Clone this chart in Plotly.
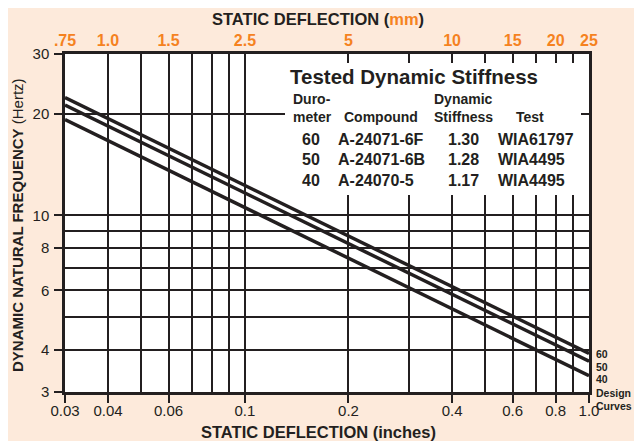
import plotly.graph_objects as go
import math

# ---------------- data ----------------
deflection_in = [0.03, 1.0]            # static deflection (inches) at curve ends
freq_60 = [22.3, 3.9]                  # Hz, 60 durometer
freq_50 = [21.2, 3.7]                  # Hz, 50 durometer
freq_40 = [19.2, 3.35]                 # Hz, 40 durometer

x_tick_vals = [0.03, 0.04, 0.06, 0.1, 0.2, 0.4, 0.6, 0.8, 1.0]
x_tick_text = ["0.03", "0.04", "0.06", "0.1", "0.2", "0.4", "0.6", "0.8", "1.0"]
x_minor_vals = [0.05, 0.07, 0.08, 0.09, 0.3, 0.5, 0.7, 0.9]
mm_tick_text = [".75", "1.0", "1.5", "2.5", "5", "10", "15", "20", "25"]
y_tick_vals = [3, 4, 6, 8, 10, 20, 30]
y_tick_text = ["3", "4", "6", "8", "10", "20", "30"]
y_minor_vals = [5, 7, 9]

durometer = ["60", "50", "40"]
compound = ["A-24071-6F", "A-24071-6B", "A-24070-5"]
stiffness = ["1.30", "1.28", "1.17"]
test = ["WIA61797", "WIA4495", "WIA4495"]

# ---------------- style ----------------
INK = "#231f20"
ORANGE = "#F5821F"
BG = "#FDEADB"
FONT = "Liberation Sans, Arial, sans-serif"

OFF = 8                       # browser body margin
W, H = 642 - OFF, 441 - OFF
PL, PR, PT, PB = 65, 589, 54, 392   # plot area in page pixels
L, T = PL - OFF, PT - OFF
R, B = W - (PR - OFF), H - (PB - OFF)


def px(x):
    return (x - PL) / (PR - PL)


def py(y):
    return (PB - y) / (PB - PT)


fig = go.Figure()
for f in (freq_60, freq_50, freq_40):
    fig.add_trace(go.Scatter(x=deflection_in, y=f, mode="lines",
                             line=dict(color=INK, width=3.5),
                             hoverinfo="skip", showlegend=False))
# invisible trace to carry the top (mm) axis
fig.add_trace(go.Scatter(x=deflection_in, y=freq_60, xaxis="x2", mode="lines",
                         line=dict(width=0), opacity=0, hoverinfo="skip",
                         showlegend=False))

xr = [math.log10(0.03), math.log10(1.0)]
yr = [math.log10(3), math.log10(30)]

fig.update_layout(
    width=W, height=H,
    margin=dict(l=L, r=R, t=T, b=B, pad=0, autoexpand=False),
    paper_bgcolor=BG, plot_bgcolor="white",
    font=dict(family=FONT, color=INK),
    xaxis=dict(type="log", range=xr, tickmode="array", tickvals=x_tick_vals,
               ticktext=x_tick_text, ticks="outside", ticklen=8, tickwidth=2,
               tickcolor=INK, showgrid=True, gridcolor=INK, gridwidth=2,
               showline=True, linecolor=INK, linewidth=2.5, mirror=True,
               tickfont=dict(size=15, color=INK), zeroline=False,
               ticklabelstandoff=-5,
               minor=dict(tickmode="array", tickvals=x_minor_vals, showgrid=True,
                          gridcolor=INK, gridwidth=2, ticks="")),
    xaxis2=dict(type="log", range=xr, overlaying="x", side="top",
                tickmode="array", tickvals=x_tick_vals,
                ticktext=["<b>%s</b>" % t for t in mm_tick_text],
                ticks="", showgrid=False, showline=False, zeroline=False,
                tickfont=dict(size=16, color=ORANGE), ticklabelstandoff=4),
    yaxis=dict(type="log", range=yr, tickmode="array", tickvals=y_tick_vals,
               ticktext=y_tick_text, ticks="outside", ticklen=8, tickwidth=2,
               tickcolor=INK, showgrid=True, gridcolor=INK, gridwidth=2,
               showline=True, linecolor=INK, linewidth=2.5, mirror=True,
               tickfont=dict(size=15, color=INK), zeroline=False,
               ticklabelstandoff=2,
               minor=dict(tickmode="array", tickvals=y_minor_vals, showgrid=True,
                          gridcolor=INK, gridwidth=2, ticks="")),
)

# white box behind the table (hides grid lines)
fig.add_shape(type="rect", xref="paper", yref="paper",
              x0=px(285), x1=px(581), y0=py(195), y1=py(63),
              fillcolor="white", line=dict(width=0), layer="above")

ann = []


def text(x, y, s, size, bold=True, xanchor="left", color=INK, angle=0):
    ann.append(dict(x=px(x), y=py(y), xref="paper", yref="paper",
                    text=("<b>%s</b>" % s) if bold else s, showarrow=False,
                    xanchor=xanchor, yanchor="middle", textangle=angle,
                    borderpad=0,
                    font=dict(size=size, color=color, family=FONT)))


# titles
text(318, 19, "STATIC DEFLECTION (<span style='color:%s'>mm</span>)" % ORANGE,
     16.5, xanchor="center")
text(318, 432, "STATIC DEFLECTION (inches)", 16.5, xanchor="center")
text(17, 225, "<b>DYNAMIC NATURAL FREQUENCY</b> (Hertz)", 15, bold=False,
     xanchor="center", angle=-90)

# table
text(289, 76, "Tested Dynamic Stiffness", 20.5)
text(292, 99, "Duro-", 14)
text(292, 117, "meter", 14)
text(343, 117, "Compound", 14)
text(463, 99, "Dynamic", 14, xanchor="center")
text(463, 117, "Stiffness", 14, xanchor="center")
text(530, 117, "Test", 14, xanchor="center")
row_y = [139, 159.5, 180]
for i in range(3):
    text(301, row_y[i], durometer[i], 16)
    text(337, row_y[i], compound[i], 16)
    text(447, row_y[i], stiffness[i], 16)
    text(497, row_y[i], test[i], 16)

# right-hand curve labels
right_y = [354, 366.7, 379.3, 392.7, 406]
for i, s in enumerate(durometer + ["Design", "Curves"]):
    text(595, right_y[i], s, 10.5)

fig.update_layout(annotations=ann)
fig.write_html("out.html")
